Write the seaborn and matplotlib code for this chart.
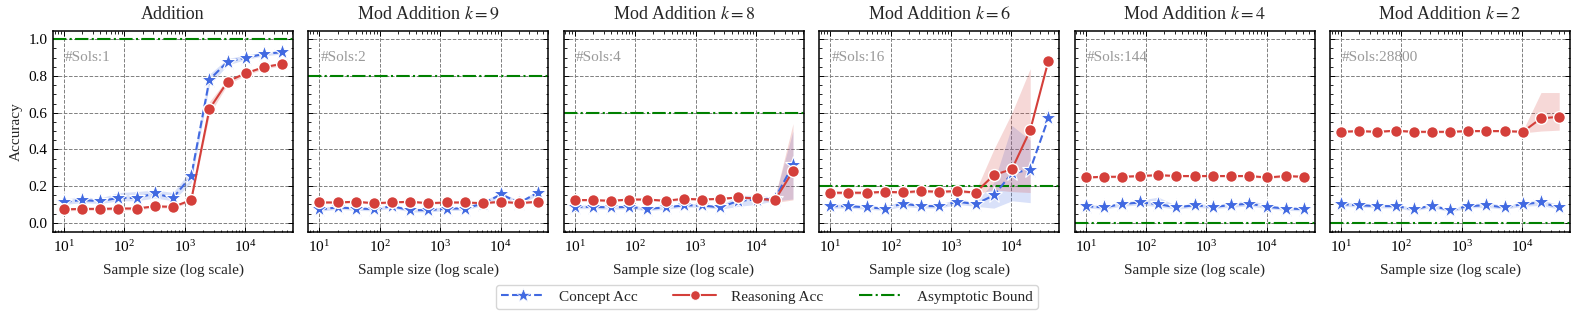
import numpy as np
import pandas as pd
import matplotlib
matplotlib.use("Agg")
import matplotlib.pyplot as plt
import seaborn as sns
from matplotlib.ticker import LogLocator, MultipleLocator, NullFormatter
from matplotlib.lines import Line2D

# ---------------- data ----------------
sample_sizes = [10, 20, 40, 80, 160, 320, 640, 1280, 2560, 5120, 10240, 20480, 40960]
titles = ["Addition", r"Mod Addition $k=9$", r"Mod Addition $k=8$",
          r"Mod Addition $k=6$", r"Mod Addition $k=4$", r"Mod Addition $k=2$"]
num_solutions = ["1", "2", "4", "16", "144", "28800"]
asymptotic_bound = [1.0, 0.8, 0.6, 0.2, 0.0, 0.0]
nan = np.nan

# Addition
concept_add = [0.115, 0.124, 0.118, 0.136, 0.136, 0.160, 0.136, 0.255, 0.780, 0.878, 0.900, 0.920, 0.930]
concept_add_lo = [0.100, 0.110, 0.105, 0.120, 0.120, 0.135, 0.120, 0.220, 0.750, 0.860, 0.890, 0.910, 0.920]
concept_add_hi = [0.130, 0.140, 0.135, 0.165, 0.170, 0.180, 0.165, 0.290, 0.810, 0.895, 0.915, 0.930, 0.940]
reason_add = [0.073, 0.076, 0.076, 0.078, 0.078, 0.090, 0.087, 0.124, 0.620, 0.770, 0.815, 0.848, 0.866]
reason_add_lo = [0.065, 0.068, 0.068, 0.070, 0.070, 0.082, 0.080, 0.115, 0.590, 0.755, 0.805, 0.838, 0.856]
reason_add_hi = [0.081, 0.084, 0.084, 0.086, 0.086, 0.098, 0.094, 0.133, 0.660, 0.785, 0.825, 0.858, 0.876]

# Mod k=9
concept_k9 = [0.073, 0.084, 0.078, 0.075, 0.090, 0.069, 0.069, 0.078, 0.078, 0.105, 0.155, 0.109, 0.164]
concept_k9_lo = [0.063, 0.074, 0.068, 0.065, 0.080, 0.059, 0.059, 0.068, 0.068, 0.095, 0.140, 0.099, 0.150]
concept_k9_hi = [0.083, 0.094, 0.088, 0.085, 0.100, 0.079, 0.079, 0.088, 0.088, 0.120, 0.165, 0.120, 0.175]
reason_k9 = [0.111, 0.111, 0.115, 0.107, 0.111, 0.115, 0.107, 0.111, 0.111, 0.107, 0.115, 0.107, 0.115]
reason_k9_lo = [0.105, 0.105, 0.109, 0.101, 0.105, 0.109, 0.101, 0.105, 0.105, 0.101, 0.109, 0.101, 0.109]
reason_k9_hi = [0.117, 0.117, 0.121, 0.113, 0.117, 0.121, 0.113, 0.117, 0.117, 0.113, 0.121, 0.113, 0.121]

# Mod k=8
concept_k8 = [0.087, 0.087, 0.084, 0.087, 0.076, 0.084, 0.095, 0.095, 0.084, 0.120, 0.127, 0.131, 0.315]
concept_k8_lo = [0.077, 0.077, 0.074, 0.077, 0.066, 0.074, 0.085, 0.085, 0.074, 0.090, 0.100, 0.120, 0.130]
concept_k8_hi = [0.097, 0.097, 0.094, 0.097, 0.086, 0.094, 0.105, 0.105, 0.094, 0.150, 0.150, 0.140, 0.500]
reason_k8 = [0.124, 0.124, 0.120, 0.127, 0.127, 0.120, 0.131, 0.127, 0.131, 0.138, 0.133, 0.122, 0.282]
reason_k8_lo = [0.118, 0.118, 0.114, 0.121, 0.121, 0.114, 0.125, 0.121, 0.125, 0.132, 0.127, 0.110, 0.125]
reason_k8_hi = [0.130, 0.130, 0.126, 0.133, 0.133, 0.126, 0.137, 0.133, 0.137, 0.144, 0.139, 0.135, 0.540]

# Mod k=6
concept_k6 = [0.091, 0.091, 0.084, 0.078, 0.105, 0.091, 0.091, 0.115, 0.102, 0.150, 0.270, 0.290, 0.570]
concept_k6_lo = [0.080, 0.080, 0.074, 0.068, 0.090, 0.080, 0.080, 0.100, 0.090, 0.080, 0.120, 0.110, nan]
concept_k6_hi = [0.102, 0.102, 0.095, 0.090, 0.120, 0.102, 0.102, 0.130, 0.115, 0.220, 0.530, 0.450, nan]
reason_k6 = [0.164, 0.164, 0.164, 0.169, 0.166, 0.173, 0.169, 0.173, 0.165, 0.260, 0.293, 0.505, 0.882]
reason_k6_lo = [0.156, 0.156, 0.156, 0.161, 0.158, 0.165, 0.161, 0.165, 0.157, 0.180, 0.170, 0.165, nan]
reason_k6_hi = [0.172, 0.172, 0.172, 0.177, 0.174, 0.181, 0.177, 0.181, 0.173, 0.400, 0.600, 0.840, nan]

# Mod k=4
concept_k4 = [0.091, 0.084, 0.102, 0.111, 0.102, 0.084, 0.096, 0.087, 0.096, 0.105, 0.087, 0.078, 0.075]
concept_k4_lo = [0.081, 0.074, 0.090, 0.098, 0.088, 0.074, 0.085, 0.077, 0.085, 0.092, 0.077, 0.068, 0.065]
concept_k4_hi = [0.101, 0.094, 0.114, 0.124, 0.140, 0.094, 0.107, 0.097, 0.110, 0.125, 0.097, 0.088, 0.085]
reason_k4 = [0.247, 0.251, 0.251, 0.255, 0.260, 0.255, 0.255, 0.255, 0.255, 0.255, 0.247, 0.255, 0.251]
reason_k4_lo = [0.241, 0.245, 0.245, 0.249, 0.254, 0.249, 0.249, 0.249, 0.249, 0.249, 0.241, 0.249, 0.245]
reason_k4_hi = [0.253, 0.257, 0.257, 0.261, 0.266, 0.261, 0.261, 0.261, 0.261, 0.261, 0.253, 0.261, 0.257]

# Mod k=2
concept_k2 = [0.102, 0.096, 0.091, 0.091, 0.075, 0.093, 0.069, 0.091, 0.096, 0.084, 0.102, 0.111, 0.084]
concept_k2_lo = [0.090, 0.086, 0.081, 0.081, 0.065, 0.083, 0.059, 0.081, 0.084, 0.074, 0.090, 0.095, 0.074]
concept_k2_hi = [0.114, 0.106, 0.101, 0.101, 0.085, 0.103, 0.079, 0.101, 0.112, 0.094, 0.114, 0.125, 0.100]
reason_k2 = [0.496, 0.500, 0.496, 0.502, 0.496, 0.496, 0.496, 0.500, 0.500, 0.500, 0.496, 0.569, 0.578]
reason_k2_lo = [0.490, 0.494, 0.490, 0.496, 0.490, 0.490, 0.490, 0.494, 0.494, 0.494, 0.490, 0.500, 0.505]
reason_k2_hi = [0.502, 0.506, 0.502, 0.508, 0.502, 0.502, 0.502, 0.506, 0.506, 0.506, 0.502, 0.710, 0.710]

concepts = [concept_add, concept_k9, concept_k8, concept_k6, concept_k4, concept_k2]
concepts_lo = [concept_add_lo, concept_k9_lo, concept_k8_lo, concept_k6_lo, concept_k4_lo, concept_k2_lo]
concepts_hi = [concept_add_hi, concept_k9_hi, concept_k8_hi, concept_k6_hi, concept_k4_hi, concept_k2_hi]
reasons = [reason_add, reason_k9, reason_k8, reason_k6, reason_k4, reason_k2]
reasons_lo = [reason_add_lo, reason_k9_lo, reason_k8_lo, reason_k6_lo, reason_k4_lo, reason_k2_lo]
reasons_hi = [reason_add_hi, reason_k9_hi, reason_k8_hi, reason_k6_hi, reason_k4_hi, reason_k2_hi]

# ---------------- style ----------------
sns.set_theme(style="ticks")
plt.rcParams["font.family"] = ["Liberation Serif", "DejaVu Serif"]
plt.rcParams["mathtext.fontset"] = "stix"
plt.rcParams.update({
    "xtick.direction": "in", "ytick.direction": "in",
    "xtick.top": True, "ytick.right": True,
    "xtick.minor.visible": True, "ytick.minor.visible": True,
    "xtick.major.size": 3.5, "ytick.major.size": 3.5,
    "xtick.minor.size": 1.8, "ytick.minor.size": 1.8,
    "xtick.major.width": 0.7, "ytick.major.width": 0.7,
    "xtick.minor.width": 0.6, "ytick.minor.width": 0.6,
    "xtick.major.pad": 5, "ytick.major.pad": 4,
    "axes.linewidth": 1.1, "axes.edgecolor": "black",
    "xtick.color": "black", "ytick.color": "black",
})

BLUE = "#4169E1"
RED = "#D43F3A"
GREEN = "#008000"

fig, axes = plt.subplots(1, 6, figsize=(15.78, 3.2), dpi=100, sharey=True)
fig.subplots_adjust(left=0.0336, right=0.995, top=0.903, bottom=0.275, wspace=0.064)

for i, ax in enumerate(axes):
    df = pd.DataFrame({"n": sample_sizes, "concept": concepts[i], "reason": reasons[i]})
    ax.fill_between(sample_sizes, concepts_lo[i], concepts_hi[i], color=BLUE, alpha=0.2, linewidth=0)
    ax.fill_between(sample_sizes, reasons_lo[i], reasons_hi[i], color=RED, alpha=0.2, linewidth=0)
    ax.axhline(asymptotic_bound[i], color=GREEN, linestyle="-.", linewidth=1.5, zorder=2)
    sns.lineplot(data=df, x="n", y="concept", ax=ax, color=BLUE, linestyle="--", linewidth=1.5,
                 marker="*", markersize=12.5, markeredgecolor="white", markeredgewidth=0.8, zorder=4)
    sns.lineplot(data=df, x="n", y="reason", ax=ax, color=RED, linestyle="-", linewidth=1.5,
                 marker="o", markersize=8.5, markeredgecolor="white", markeredgewidth=1.0, zorder=5)
    ax.set_xscale("log")
    ax.set_ylim(-0.05, 1.045)
    ax.yaxis.set_major_locator(MultipleLocator(0.2))
    ax.yaxis.set_minor_locator(MultipleLocator(0.05))
    ax.xaxis.set_major_locator(LogLocator(base=10, numticks=10))
    ax.xaxis.set_minor_locator(LogLocator(base=10, subs=np.arange(2, 10), numticks=10))
    ax.xaxis.set_minor_formatter(NullFormatter())
    ax.grid(True, which="major", linestyle="--", color="#808080", linewidth=0.7)
    ax.set_axisbelow(True)
    ax.set_title(titles[i], fontsize=13, pad=9)
    ax.set_xlabel("Sample size (log scale)", fontsize=11, labelpad=6)
    ax.set_ylabel("Accuracy" if i == 0 else "", fontsize=11)
    ax.tick_params(axis="both", which="both", labelsize=11)
    ax.text(0.05, 0.87, "#Sols:" + num_solutions[i], transform=ax.transAxes,
            color="#999999", fontsize=11, va="center", ha="left")
    for s in ax.spines.values():
        s.set_visible(True)
        s.set_linewidth(1.1)

handles = [
    Line2D([], [], color=BLUE, linestyle="--", marker="*", markersize=10, linewidth=1.5,
           markeredgecolor="white", markeredgewidth=0.5),
    Line2D([], [], color=RED, linestyle="-", marker="o", markersize=7, linewidth=1.5,
           markeredgecolor="white", markeredgewidth=0.8),
    Line2D([], [], color=GREEN, linestyle="-.", linewidth=1.5),
]
fig.legend(handles, ["Concept Acc", "Reasoning Acc", "Asymptotic Bound"], loc="center",
           bbox_to_anchor=(0.486, 0.072), ncol=3, fontsize=11, frameon=True, fancybox=True,
           edgecolor="#cccccc", columnspacing=2.3, handlelength=2.8, handletextpad=1.0,
           borderpad=0.35)

fig.savefig("out.png", dpi=100)
